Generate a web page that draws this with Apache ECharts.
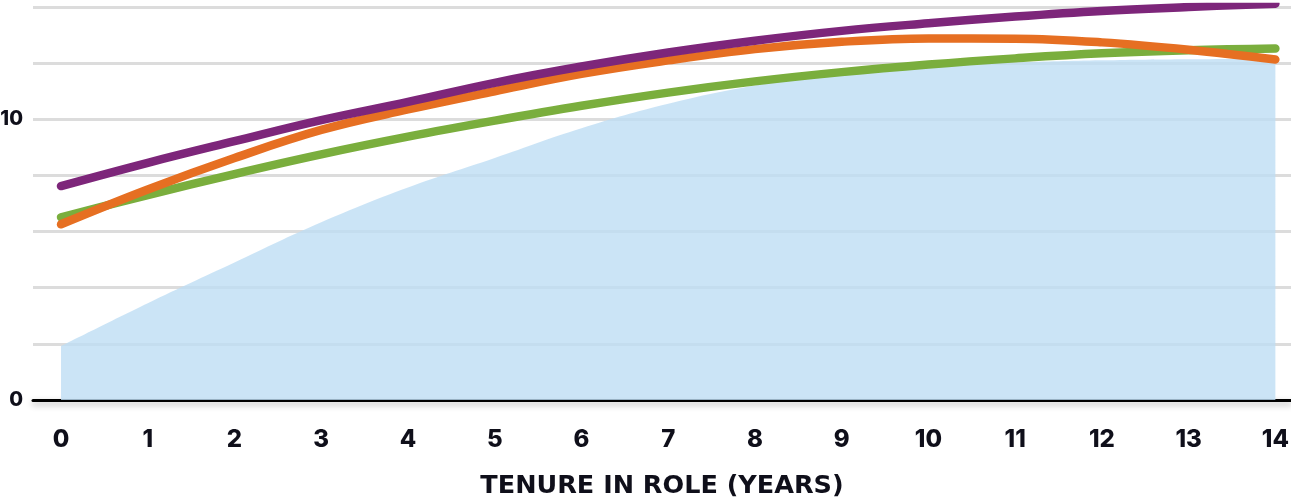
<!DOCTYPE html>
<html>
<head>
<meta charset="utf-8">
<script src="https://cdn.jsdelivr.net/npm/echarts@6/dist/echarts.min.js"></script>
<style>
html,body{margin:0;padding:0;background:#fff;}
#chart{width:1291px;height:500px;}
</style>
</head>
<body>
<div id="chart"></div>
<script>
const years = [0,1,2,3,4,5,6,7,8,9,10,11,12,13,14];
const purpleValues = [7.62,8.45,9.22,9.97,10.62,11.3,11.88,12.38,12.8,13.15,13.42,13.66,13.86,14.0,14.12];
const orangeValues = [6.26,7.5,8.62,9.62,10.35,11.0,11.62,12.1,12.5,12.76,12.88,12.87,12.74,12.48,12.13];
const greenValues  = [6.51,7.3,8.05,8.75,9.38,9.95,10.48,10.95,11.35,11.68,11.95,12.17,12.35,12.46,12.52];
const areaValues   = [1.92,3.45,4.9,6.33,7.57,8.62,9.68,10.55,11.2,11.6,11.88,12.02,12.1,12.14,12.15];
const xTickLabels = [0,1,2,3,4,5,6,7,8,9,10,11,12,13,14];
const yTickLabels = [0,10];
const xAxisName = 'TENURE IN ROLE (YEARS)';

const pairs = vals => years.map((y, i) => [y, vals[i]]);
const labelFont = 'Inter, "Open Sans", sans-serif';
const nameFont = '"DejaVu Sans", Inter, sans-serif';

function lineSeries(vals, color) {
  return {
    type: 'line', data: pairs(vals), smooth: 0.4, showSymbol: false, symbol: 'none',
    lineStyle: { width: 8.5, color: color, cap: 'round' }, itemStyle: { color: color },
    silent: true, animation: false
  };
}

const chart = echarts.init(document.getElementById('chart'));
chart.setOption({
  animation: false,
  grid: { left: 33, right: 0, top: 7, bottom: 100, outerBoundsMode: 'none', containLabel: false },
  xAxis: {
    type: 'value', min: -0.323, max: 14.18,
    name: xAxisName, nameLocation: 'middle', nameGap: 73,
    nameTextStyle: { fontFamily: nameFont, fontWeight: 'bold', fontSize: 25.5, color: '#0f0f1a' },
    axisLine: { show: true, lineStyle: { color: '#000', width: 3, shadowColor: 'rgba(0,0,0,0.3)', shadowBlur: 6, shadowOffsetY: 3 } },
    axisTick: { show: false },
    splitLine: { show: false },
    axisLabel: { customValues: xTickLabels, margin: 28, fontFamily: labelFont, fontWeight: 800, fontSize: 24, color: '#0f0f1a' }
  },
  yAxis: {
    type: 'value', min: 0, max: 14, interval: 2,
    axisLine: { show: false }, axisTick: { show: false },
    splitLine: { show: true, lineStyle: { color: '#dcdcdc', width: 3 } },
    axisLabel: { customValues: yTickLabels, margin: 10, fontFamily: labelFont, fontWeight: 800, fontSize: 20, color: '#0f0f1a' }
  },
  series: [
    {
      type: 'line', data: pairs(areaValues), smooth: 0.4, showSymbol: false, symbol: 'none',
      lineStyle: { width: 0, opacity: 0 },
      areaStyle: { color: 'rgba(190,221,244,0.8)', opacity: 1 },
      silent: true
    },
    lineSeries(greenValues, '#7aae3d'),
    lineSeries(orangeValues, '#e66f22'),
    lineSeries(purpleValues, '#7d267a')
  ]
});
</script>
</body>
</html>
